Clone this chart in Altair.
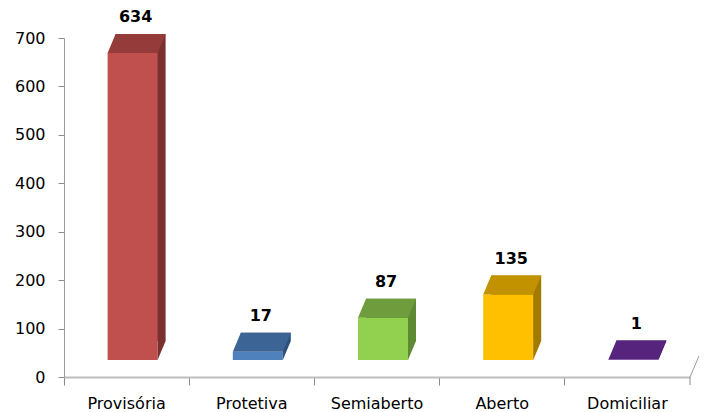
import altair as alt
import pandas as pd

categories = ["Provisória", "Protetiva", "Semiaberto", "Aberto", "Domiciliar"]
values = [634, 17, 87, 135, 1]
front_colors = ["#C0504D", "#4F81BD", "#92D050", "#FFC000", "#7030A0"]
top_colors = ["#953B39", "#3C6494", "#6F9D3D", "#C39200", "#56247C"]
side_colors = ["#7A302E", "#2E4F78", "#5E8A34", "#A37A00", "#44205F"]

df = pd.DataFrame({
    "cat": categories,
    "value": values,
    "front": front_colors,
    "top": top_colors,
    "side": side_colors,
})

W, H = 626, 339
FONT = "DejaVu Sans"

x_enc = alt.X(
    "cat:N",
    sort=categories,
    scale=alt.Scale(paddingInner=0, paddingOuter=0),
    axis=alt.Axis(
        title=None, labelAngle=0, bandPosition=0, tickSize=8,
        labelPadding=10, labelFont=FONT, labelFontSize=16, labelColor="#000000",
        domainColor="#BDBDBD", domainWidth=2, tickColor="#8C8C8C",
    ),
)
x_plain = alt.X("cat:N", sort=categories)
y_enc = alt.Y(
    "value:Q",
    scale=alt.Scale(domain=[0, 700], nice=False),
    axis=alt.Axis(
        title=None, values=[0, 100, 200, 300, 400, 500, 600, 700], grid=False,
        tickSize=6, labelPadding=13, labelFont=FONT, labelFontSize=16,
        labelColor="#000000", domainColor="#9A9A9A", tickColor="#8C8C8C",
    ),
)

base = alt.Chart(df)

back = base.mark_bar(width=50, xOffset=14, yOffset=-36, y2Offset=-36).encode(
    x=x_enc, y=y_enc, y2=alt.datum(0), color=alt.Color("side:N", scale=None)
)
front = base.mark_bar(width=50, xOffset=6, yOffset=-17, y2Offset=-17).encode(
    x=x_plain, y="value:Q", y2=alt.datum(0), color=alt.Color("front:N", scale=None)
)
bottom_tri = base.mark_point(
    shape="M25,-19L25,0L33,-19Z", size=4, filled=True, opacity=1,
    strokeWidth=0, xOffset=6, yOffset=-17,
).encode(x=x_plain, y=alt.datum(0), color=alt.Color("side:N", scale=None))
top_face = base.mark_point(
    shape="M-25,0L25,0L33,-19L-17,-19Z", size=4, filled=True, opacity=1,
    strokeWidth=0, xOffset=6, yOffset=-17,
).encode(x=x_plain, y="value:Q", color=alt.Color("top:N", scale=None))
labels = base.mark_text(
    font=FONT, fontSize=16, fontWeight="bold", color="#000000",
    xOffset=9, yOffset=-53, baseline="middle",
).encode(x=x_plain, y="value:Q", text="value:Q")

last = pd.DataFrame({"cat": [categories[-1]]})
end_tick = alt.Chart(last).mark_rule(color="#8C8C8C").encode(
    x=alt.X("cat:N", sort=categories, bandPosition=1), y=alt.value(H), y2=alt.value(H + 8)
)
floor_right = alt.Chart(last).mark_rule(color="#9A9A9A").encode(
    x=alt.X("cat:N", sort=categories, bandPosition=1), y=alt.value(H),
    x2=alt.value(W + 9), y2=alt.value(H - 21)
)

chart = alt.layer(back, front, bottom_tri, top_face, labels, end_tick, floor_right).properties(
    width=W, height=H,
    autosize=alt.AutoSizeParams(type="none"),
    padding={"left": 56, "top": 30, "right": 9, "bottom": 36},
    background="#FFFFFF",
).configure_view(stroke=None)

chart.save("out.html", embed_options={"renderer": "svg", "actions": False})
